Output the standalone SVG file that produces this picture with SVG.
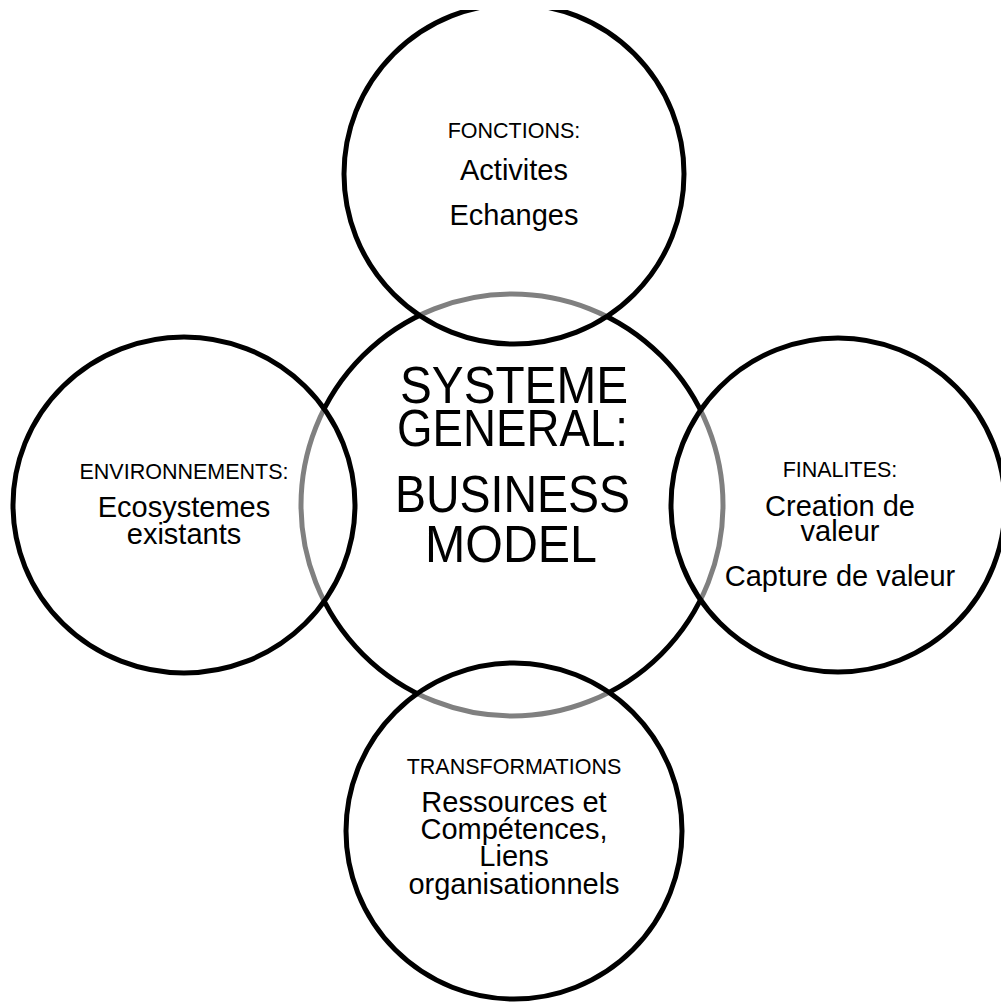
<svg xmlns="http://www.w3.org/2000/svg" width="1001" height="1003" viewBox="0 0 1001 1003">
<style>
.ring{fill:#fff;fill-opacity:0.5;stroke:#000;stroke-width:5}
.core{fill:#fff;stroke:#000;stroke-width:5}
text{font-family:"Liberation Sans",Arial,sans-serif;fill:#000;text-anchor:middle}
.s{font-size:21.5px}
.m{font-size:29px}
.b{font-size:51px}
</style>
<defs>
<clipPath id="page"><rect x="0" y="10" width="1001" height="993"/></clipPath>
</defs>
<rect x="0" y="0" width="1001" height="1003" fill="#fff"/>
<g clip-path="url(#page)">
<g id="center"><circle class="core" cx="512" cy="505" r="211"/></g>
<g id="top"><circle class="ring" cx="514" cy="174" r="170"/></g>
<g id="left"><ellipse class="ring" cx="184" cy="505" rx="171" ry="168"/></g>
<g id="right"><circle class="ring" cx="838" cy="505" r="167"/></g>
<g id="bottom"><circle class="ring" cx="514" cy="831" r="168"/></g>
</g>
<g id="connectors"></g>
<g id="labels">
<text class="s" x="514" y="138">FONCTIONS:</text>
<text class="m" x="514" y="180">Activites</text>
<text class="m" x="514" y="225">Echanges</text>
<text class="s" x="184" y="479">ENVIRONNEMENTS:</text>
<text class="m" x="184" y="517">Ecosystemes</text>
<text class="m" x="184" y="544">existants</text>
<text class="b" x="514" y="403" textLength="228" lengthAdjust="spacingAndGlyphs">SYSTEME</text>
<text class="b" x="512.5" y="446" textLength="231" lengthAdjust="spacingAndGlyphs">GENERAL:</text>
<text class="b" x="512.5" y="512" textLength="235" lengthAdjust="spacingAndGlyphs">BUSINESS</text>
<text class="b" x="511" y="562" textLength="172" lengthAdjust="spacingAndGlyphs">MODEL</text>
<text class="s" x="840" y="477">FINALITES:</text>
<text class="m" x="840" y="516">Creation de</text>
<text class="m" x="840" y="541">valeur</text>
<text class="m" x="840" y="586">Capture de valeur</text>
<text class="s" x="514" y="774">TRANSFORMATIONS</text>
<text class="m" x="514" y="812">Ressources et</text>
<text class="m" x="514" y="839">Compétences,</text>
<text class="m" x="514" y="866">Liens</text>
<text class="m" x="514" y="894">organisationnels</text>
</g>
</svg>
